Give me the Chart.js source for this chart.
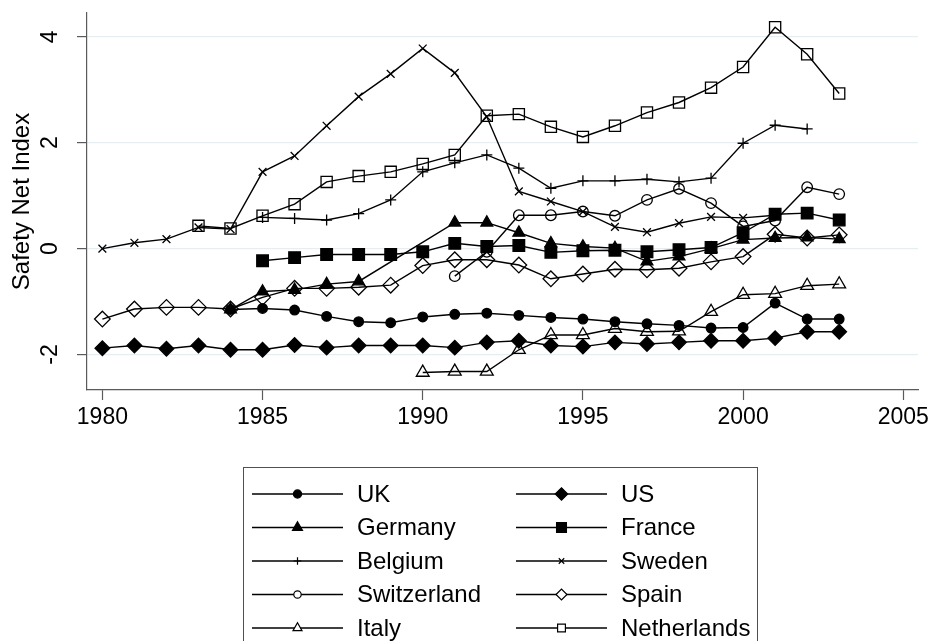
<!DOCTYPE html>
<html>
<head>
<meta charset="utf-8">
<title>Safety Net Index</title>
<script src="https://cdn.jsdelivr.net/npm/chart.js@4/dist/chart.umd.min.js"></script>
<style>
  html, body { margin: 0; padding: 0; background: #ffffff; }
  #wrap { width: 932px; height: 641px; }
</style>
</head>
<body>
<div id="wrap"><canvas id="chart" width="932" height="641"></canvas></div>
<script>
// Years covered by the index
const years = [1980, 1981, 1982, 1983, 1984, 1985, 1986, 1987, 1988, 1989, 1990, 1991,
               1992, 1993, 1994, 1995, 1996, 1997, 1998, 1999, 2000, 2001, 2002, 2003];

// Safety net index per country (null = no observation that year)
const uk          = [null, null, null, null, -1.15, -1.13, -1.16, -1.28, -1.38, -1.40, -1.29, -1.24,
                     -1.22, -1.26, -1.30, -1.33, -1.38, -1.42, -1.45, -1.50, -1.49, -1.03, -1.33, -1.33];
const us          = [-1.88, -1.83, -1.89, -1.83, -1.91, -1.91, -1.82, -1.87, -1.83, -1.83, -1.83, -1.87,
                     -1.77, -1.74, -1.83, -1.85, -1.77, -1.80, -1.77, -1.74, -1.74, -1.69, -1.57, -1.57];
const germany     = [null, null, null, null, -1.15, -0.81, -0.78, -0.67, -0.62, null, null, 0.49,
                     0.49, 0.30, 0.10, 0.04, 0.01, -0.24, -0.15, 0.00, 0.17, 0.20, 0.21, 0.18];
const france      = [null, null, null, null, null, -0.23, -0.17, -0.11, -0.11, -0.11, -0.06, 0.10,
                     0.04, 0.06, -0.07, -0.04, -0.03, -0.06, -0.02, 0.02, 0.30, 0.65, 0.67, 0.54];
const belgium     = [null, null, null, null, null, 0.59, 0.57, 0.54, 0.66, 0.92, 1.45, 1.62,
                     1.77, 1.52, 1.14, 1.28, 1.28, 1.31, 1.26, 1.33, 1.99, 2.33, 2.26, null];
const sweden      = [0.00, 0.11, 0.18, 0.40, 0.37, 1.45, 1.75, 2.32, 2.87, 3.30, 3.78, 3.32,
                     2.49, 1.08, 0.89, 0.70, 0.41, 0.31, 0.48, 0.60, 0.58, 0.63, null, null];
const switzerland = [null, null, null, null, null, null, null, null, null, null, null, -0.52,
                     -0.06, 0.63, 0.63, 0.70, 0.62, 0.92, 1.13, 0.86, 0.42, 0.53, 1.16, 1.03];
const spain       = [-1.33, -1.14, -1.11, -1.11, -1.14, -0.92, -0.75, -0.75, -0.73, -0.69, -0.32, -0.21,
                     -0.21, -0.31, -0.57, -0.48, -0.39, -0.40, -0.37, -0.25, -0.15, 0.27, 0.20, 0.26];
const italy       = [null, null, null, null, null, null, null, null, null, null, -2.34, -2.32,
                     -2.32, -1.91, -1.63, -1.63, -1.51, -1.57, -1.56, -1.19, -0.87, -0.85, -0.70, -0.67];
const netherlands = [null, null, null, 0.43, 0.38, 0.62, 0.84, 1.26, 1.37, 1.45, 1.60, 1.77,
                     2.51, 2.54, 2.30, 2.11, 2.32, 2.57, 2.76, 3.04, 3.43, 4.18, 3.67, 2.93];

const countries = ['UK', 'US', 'Germany', 'France', 'Belgium', 'Sweden',
                   'Switzerland', 'Spain', 'Italy', 'Netherlands'];
const seriesValues = [uk, us, germany, france, belgium, sweden, switzerland, spain, italy, netherlands];

// Axis ticks
const xTicks = [1980, 1985, 1990, 1995, 2000, 2005];
const yTicks = [-2, 0, 2, 4];
const yTitle = 'Safety Net Index';

// Marker styling for each country (same order as countries)
const FONT = '"Liberation Sans", Arial, Helvetica, sans-serif';
const INK = '#000000';
const AXIS = '#5a5a5a';
const GRID = '#e6eef2';
const markers = [
  { style: 'circle',   r: 4.8, fill: true  },
  { style: 'rectRot',  r: 7.3, fill: true  },
  { style: 'triangle', r: 6.8, fill: true  },
  { style: 'rect',     r: 8.2, fill: true  },
  { style: 'cross',    r: 5.5, fill: false },
  { style: 'crossRot', r: 5.5, fill: false },
  { style: 'circle',   r: 5.3, fill: false },
  { style: 'rectRot',  r: 7.8, fill: false },
  { style: 'triangle', r: 7.4, fill: false },
  { style: 'rect',     r: 7.9, fill: false }
];

const datasets = countries.map((name, i) => ({
  label: name,
  data: years.map((yr, k) => ({ x: yr, y: seriesValues[i][k] })).filter(p => p.y !== null),
  borderColor: INK,
  borderWidth: 1.4,
  backgroundColor: markers[i].fill ? INK : 'rgba(0,0,0,0)',
  pointStyle: markers[i].style,
  pointRadius: markers[i].r,
  pointHoverRadius: markers[i].r,
  pointBorderColor: INK,
  pointBackgroundColor: markers[i].fill ? INK : 'rgba(0,0,0,0)',
  pointBorderWidth: 1.3,
  tension: 0,
  fill: false
}));

// Rotated y tick labels, the y title and the boxed two-column legend
const decorations = {
  id: 'decorations',
  afterDraw(chart) {
    const ctx = chart.ctx;
    const ys = chart.scales.y;
    const area = chart.chartArea;
    ctx.save();
    ctx.fillStyle = INK;
    ctx.textAlign = 'center';
    ctx.textBaseline = 'middle';

    ctx.font = '23px ' + FONT;
    yTicks.forEach(v => {
      ctx.save();
      ctx.translate(51, ys.getPixelForValue(v));
      ctx.rotate(-Math.PI / 2);
      ctx.fillText(String(v), 0, 0);
      ctx.restore();
    });

    ctx.font = '24px ' + FONT;
    ctx.save();
    ctx.translate(22, (area.top + area.bottom) / 2);
    ctx.rotate(-Math.PI / 2);
    ctx.fillText(yTitle, 0, 0);
    ctx.restore();

    // legend frame (runs off the bottom edge)
    ctx.strokeStyle = '#505050';
    ctx.lineWidth = 1;
    ctx.strokeRect(243.5, 467.5, 514, 220);

    const colX = [252, 516];
    const rowY = [494, 527.5, 561, 594.5, 628];
    const sampleLen = 91;
    ctx.textAlign = 'left';
    ctx.font = '24px ' + FONT;
    chart.data.datasets.forEach((ds, i) => {
      const x0 = colX[i % 2];
      const y0 = rowY[Math.floor(i / 2)];
      ctx.strokeStyle = INK;
      ctx.lineWidth = 1.4;
      ctx.beginPath();
      ctx.moveTo(x0, y0);
      ctx.lineTo(x0 + sampleLen, y0);
      ctx.stroke();
      const m = markers[i];
      ctx.fillStyle = m.fill ? INK : '#ffffff';
      ctx.strokeStyle = INK;
      ctx.lineWidth = 1.2;
      Chart.helpers.drawPoint(ctx, {
        pointStyle: m.style,
        radius: m.fill ? m.r * 0.85 : m.r * 0.7,
        rotation: 0,
        borderWidth: 1.2
      }, x0 + sampleLen / 2, y0);
      ctx.fillStyle = INK;
      ctx.fillText(ds.label, x0 + 105, y0 + 1);
    });
    ctx.restore();
  }
};

new Chart(document.getElementById('chart'), {
  type: 'line',
  data: { datasets },
  plugins: [decorations],
  options: {
    responsive: false,
    animation: false,
    devicePixelRatio: 1,
    layout: { padding: { top: 13, right: 14, bottom: 201, left: 0 } },
    plugins: {
      legend: { display: false },
      tooltip: { enabled: false },
      title: { display: false }
    },
    scales: {
      x: {
        type: 'linear',
        min: 1979.52,
        max: 2005.46,
        afterBuildTicks: s => { s.ticks = xTicks.map(v => ({ value: v })); },
        afterFit: s => { s.height = 50; s.paddingLeft = 0; s.paddingRight = 0; },
        border: { display: true, color: AXIS, width: 1.2 },
        grid: { drawOnChartArea: false, drawTicks: true, tickLength: 10, tickColor: AXIS, tickWidth: 1.2 },
        ticks: {
          color: INK,
          padding: 4,
          maxRotation: 0,
          autoSkip: false,
          font: { family: FONT, size: 23 },
          callback: v => String(v)
        }
      },
      y: {
        type: 'linear',
        min: -2.67,
        max: 4.45,
        afterBuildTicks: s => { s.ticks = yTicks.map(v => ({ value: v })); },
        afterFit: s => { s.width = 87; },
        border: { display: true, color: AXIS, width: 1.2 },
        grid: { color: GRID, lineWidth: 1.2, drawTicks: true, tickLength: 10, tickColor: AXIS, tickWidth: 1.2 },
        ticks: { display: false }
      }
    }
  }
});
</script>
</body>
</html>
